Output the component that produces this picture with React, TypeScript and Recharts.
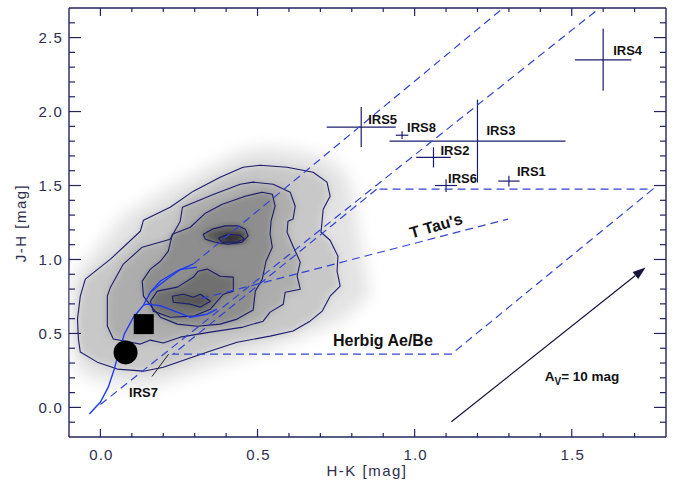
import React from 'react';
import { ScatterChart, Scatter, XAxis, YAxis, ErrorBar } from 'recharts';

type XY = [number, number];

const NAVY = '#1c1c6c';
const AXIS = '#23235e';
const BLUE_DASH = '#3344d0';
const BLUE = '#1f3cf2';
const TICK_TXT = '#2e2e4e';
const FONT = '"Liberation Sans", Arial, sans-serif';

// axis ticks (major every 0.5, minor every 0.1)
const X_TICKS = [0, 0.1, 0.2, 0.3, 0.4, 0.5, 0.6, 0.7, 0.8, 0.9, 1.0, 1.1, 1.2, 1.3, 1.4, 1.5, 1.6, 1.7];
const Y_TICKS = [-0.1, 0, 0.1, 0.2, 0.3, 0.4, 0.5, 0.6, 0.7, 0.8, 0.9, 1.0, 1.1, 1.2, 1.3, 1.4, 1.5, 1.6, 1.7, 1.8, 1.9, 2.0, 2.1, 2.2, 2.3, 2.4, 2.5, 2.6];

// density cloud: faint halo + contour levels (H-K, J-H)
const HALO: XY[] = [[-0.09, 0.867], [-0.016, 1.07], [0.079, 1.306], [0.191, 1.455], [0.318, 1.597], [0.445, 1.732], [0.524, 1.759], [0.636, 1.732], [0.731, 1.678], [0.794, 1.543], [0.81, 1.34], [0.826, 1.137], [0.842, 0.934], [0.858, 0.766], [0.779, 0.597], [0.667, 0.495], [0.54, 0.394], [0.318, 0.245], [0.159, 0.137], [0.032, 0.158], [-0.064, 0.225], [-0.09, 0.394], [-0.095, 0.664], [-0.09, 0.867]];
const C1: XY[] = [[-0.048, 0.867], [0.032, 1.002], [0.127, 1.191], [0.137, 1.266], [0.222, 1.353], [0.296, 1.462], [0.381, 1.556], [0.454, 1.624], [0.508, 1.637], [0.594, 1.624], [0.677, 1.59], [0.721, 1.523], [0.731, 1.428], [0.709, 1.34], [0.702, 1.184], [0.731, 1.13], [0.756, 1.022], [0.753, 0.921], [0.763, 0.82], [0.731, 0.752], [0.706, 0.651], [0.667, 0.583], [0.613, 0.516], [0.54, 0.482], [0.435, 0.441], [0.35, 0.381], [0.276, 0.327], [0.2, 0.272], [0.137, 0.245], [0.054, 0.259], [-0.01, 0.306], [-0.064, 0.374], [-0.07, 0.462], [-0.073, 0.597], [-0.064, 0.752], [-0.048, 0.867]];
const C2: XY[] = [[0.032, 0.813], [0.073, 0.969], [0.133, 1.083], [0.222, 1.137], [0.254, 1.259], [0.261, 1.353], [0.359, 1.44], [0.445, 1.509], [0.486, 1.523], [0.55, 1.509], [0.604, 1.455], [0.62, 1.36], [0.613, 1.273], [0.597, 1.259], [0.594, 1.184], [0.613, 1.09], [0.636, 0.982], [0.626, 0.887], [0.636, 0.799], [0.588, 0.779], [0.582, 0.698], [0.54, 0.644], [0.518, 0.583], [0.454, 0.543], [0.35, 0.509], [0.254, 0.475], [0.2, 0.435], [0.159, 0.455], [0.127, 0.428], [0.041, 0.462], [0.022, 0.55], [0.022, 0.752], [0.032, 0.813]];
const C3: XY[] = [[0.216, 1.056], [0.229, 1.171], [0.286, 1.218], [0.334, 1.313], [0.388, 1.373], [0.461, 1.428], [0.515, 1.455], [0.547, 1.441], [0.556, 1.36], [0.543, 1.259], [0.54, 1.171], [0.547, 1.083], [0.527, 0.988], [0.515, 0.867], [0.493, 0.786], [0.486, 0.658], [0.435, 0.597], [0.381, 0.563], [0.308, 0.549], [0.245, 0.563], [0.191, 0.61], [0.159, 0.691], [0.137, 0.752], [0.133, 0.854], [0.159, 0.935], [0.191, 0.988], [0.216, 1.056]];
const C4A: XY[] = [[0.327, 1.171], [0.356, 1.205], [0.397, 1.227], [0.439, 1.227], [0.461, 1.205], [0.47, 1.159], [0.451, 1.117], [0.407, 1.103], [0.365, 1.117], [0.334, 1.137], [0.327, 1.171]];
const C4B: XY[] = [[0.311, 0.921], [0.34, 0.935], [0.381, 0.887], [0.423, 0.881], [0.423, 0.786], [0.391, 0.765], [0.372, 0.718], [0.35, 0.664], [0.296, 0.617], [0.222, 0.61], [0.168, 0.651], [0.159, 0.718], [0.181, 0.786], [0.245, 0.813], [0.296, 0.881], [0.311, 0.921]];
const C5A: XY[] = [[0.375, 1.144], [0.407, 1.171], [0.445, 1.164], [0.458, 1.137], [0.432, 1.117], [0.388, 1.117], [0.375, 1.144]];
const C5B: XY[] = [[0.229, 0.752], [0.264, 0.765], [0.296, 0.745], [0.318, 0.765], [0.35, 0.718], [0.318, 0.678], [0.286, 0.698], [0.232, 0.711], [0.229, 0.752]];

// intrinsic loci (solid blue)
const DWARF: XY[] = [[-0.035, -0.045], [0.0, 0.036], [0.025, 0.137], [0.044, 0.259], [0.057, 0.36], [0.076, 0.495], [0.105, 0.61], [0.137, 0.691]];
const GIANT_A: XY[] = [[0.137, 0.691], [0.159, 0.779], [0.191, 0.855], [0.244, 0.922], [0.296, 0.97]];
const GIANT_B: XY[] = [[0.159, 0.779], [0.207, 0.86], [0.254, 0.932], [0.307, 0.948]];
const DWARF_B: XY[] = [[0.137, 0.691], [0.149, 0.698], [0.191, 0.687], [0.244, 0.644], [0.286, 0.61], [0.339, 0.63], [0.371, 0.664]];

// dashed lines: reddening bands, T Tau locus, Herbig Ae/Be region
const RED_UPPER: XY[] = [[0.296, 0.97], [1.282, 2.7]];
const RED_LOWER: XY[] = [[0.0, 0.02], [1.589, 2.7]];
const TTAU: XY[] = [[0.32, 0.735], [1.297, 1.273]];
const HERBIG: XY[] = [[0.879, 1.475], [0.231, 0.36], [1.117, 0.36], [1.758, 1.475], [0.879, 1.475]];
const AV_ARROW: XY[] = [[1.117, -0.097], [1.735, 0.946]];
const IRS7_LEADER: XY[] = [[0.164, 0.209], [0.217, 0.36]];

// sources
const IRS_NAMES = ['IRS1', 'IRS2', 'IRS3', 'IRS4', 'IRS5', 'IRS6', 'IRS7', 'IRS8'];
const IRS_HK = [1.3, 1.06, 1.2, 1.6, 0.83, 1.1, 0.228, 0.96];
const IRS_JH = [1.53, 1.69, 1.8, 2.35, 1.895, 1.5, 0.405, 1.84];
const IRS_HK_ERR = [0.034, 0.055, 0.28, 0.09, 0.11, 0.035, 0.037, 0.02];
const IRS_JH_ERR = [0.036, 0.068, 0.28, 0.21, 0.135, 0.043, 0.034, 0.026];

const CIRCLE_PT: XY[] = [[0.08, 0.372]];
const SQUARE_PT: XY[] = [[0.138, 0.563]];

const NOTE_TEXT = ['Herbig Ae/Be', "T Tau's", 'AV'];
const NOTE_HK = [0.74, 0.99, 1.414];
const NOTE_JH = [0.416, 1.142, 0.18];

const irsData = IRS_NAMES.map((name, i) => ({ name, x: IRS_HK[i], y: IRS_JH[i], ex: IRS_HK_ERR[i], ey: IRS_JH_ERR[i] }));
const noteData = NOTE_TEXT.map((text, i) => ({ text, x: NOTE_HK[i], y: NOTE_JH[i] }));
const pts = (a: XY[]) => a.map(([x, y]) => ({ x, y }));

const LABEL_OFF: Record<string, [number, number]> = {
  IRS1: [8, -5], IRS2: [7, -2], IRS3: [9, -6], IRS4: [10, -5],
  IRS5: [7, -3], IRS6: [2, -3], IRS7: [-43, 49], IRS8: [5, -3],
};

const Empty = () => <g />;

const toD = (p: { x: number; y: number }[], close: boolean) =>
  p.map((q, i) => `${i ? 'L' : 'M'}${q.x},${q.y}`).join(' ') + (close ? ' Z' : '');

const pathLine = (style: React.SVGProps<SVGPathElement>, close = false) => (props: any) =>
  <path d={toD(props.points, close)} {...style} />;

const arrowLine = (props: any) => {
  const [a, b] = props.points;
  const ang = Math.atan2(b.y - a.y, b.x - a.x);
  const L = 13, W = 4.5;
  const bx = b.x - L * Math.cos(ang), by = b.y - L * Math.sin(ang);
  return (
    <g>
      <line x1={a.x} y1={a.y} x2={bx} y2={by} stroke="#14143c" strokeWidth={1.2} />
      <polygon
        points={`${b.x},${b.y} ${bx + W * Math.sin(ang)},${by - W * Math.cos(ang)} ${bx - W * Math.sin(ang)},${by + W * Math.cos(ang)}`}
        fill="#14143c"
      />
    </g>
  );
};

const isMajor = (v: number) => Math.abs(v * 2 - Math.round(v * 2)) < 1e-6;
const tickText = { fontFamily: FONT, fontSize: 15, fill: TICK_TXT, letterSpacing: 1.2 };

function BottomTick({ x, y, payload }: any) {
  const m = isMajor(payload.value);
  return (
    <g>
      <line x1={x} x2={x} y1={y} y2={y - (m ? 8 : 4)} stroke={AXIS} strokeWidth={1.2} />
      {m && <text x={x + 1} y={y + 23} textAnchor="middle" {...tickText}>{payload.value.toFixed(1)}</text>}
    </g>
  );
}
function TopTick({ x, y, payload }: any) {
  const m = isMajor(payload.value);
  return <line x1={x} x2={x} y1={y} y2={y + (m ? 8 : 4)} stroke={AXIS} strokeWidth={1.2} />;
}
function LeftTick({ x, y, payload }: any) {
  const m = isMajor(payload.value);
  return (
    <g>
      <line x1={x} x2={x + (m ? 12 : 6)} y1={y} y2={y} stroke={AXIS} strokeWidth={1.2} />
      {m && <text x={x - 6} y={y + 5.5} textAnchor="end" {...tickText}>{payload.value.toFixed(1)}</text>}
    </g>
  );
}
function RightTick({ x, y, payload }: any) {
  const m = isMajor(payload.value);
  return <line x1={x} x2={x - (m ? 12 : 6)} y1={y} y2={y} stroke={AXIS} strokeWidth={1.2} />;
}

function IrsLabel(p: any) {
  const [dx, dy] = LABEL_OFF[p.payload.name] || [6, -4];
  return (
    <text x={p.cx + dx} y={p.cy + dy} fontFamily={FONT} fontWeight="bold" fontSize={13} fill="#111">
      {p.payload.name}
    </text>
  );
}

function Note(p: any) {
  const t = p.payload.text;
  const common = { fontFamily: FONT, fontWeight: 'bold' as const, fill: '#111' };
  if (t === 'AV') {
    return (
      <text x={p.cx} y={p.cy} fontSize={13.5} {...common}>
        A<tspan fontSize={10} dy={4}>V</tspan><tspan dy={-4}>= 10 mag</tspan>
      </text>
    );
  }
  if (t === "T Tau's") {
    return (
      <text x={p.cx} y={p.cy} fontSize={16} transform={`rotate(-16 ${p.cx} ${p.cy})`} {...common}>{t}</text>
    );
  }
  return <text x={p.cx} y={p.cy} fontSize={16} {...common}>{t}</text>;
}

const fillPoly = (fill: string, filter: string) => pathLine({ fill, stroke: 'none', filter }, true);
const contour = pathLine({ fill: 'none', stroke: NAVY, strokeWidth: 1.1, strokeLinejoin: 'round' }, true);
const solidBlue = pathLine({ fill: 'none', stroke: BLUE, strokeWidth: 1.4 });
const dashed = pathLine({ fill: 'none', stroke: BLUE_DASH, strokeWidth: 1.2, strokeDasharray: '8 5' });

export default function App() {
  return (
    <div style={{ position: 'absolute', left: 0, top: 0, width: 678, height: 483, background: '#fff' }}>
      <svg width={0} height={0} style={{ position: 'absolute' }}>
        <defs>
          <filter id="blur8" x="-30%" y="-30%" width="160%" height="160%"><feGaussianBlur stdDeviation={8} /></filter>
          <filter id="blur5" x="-30%" y="-30%" width="160%" height="160%"><feGaussianBlur stdDeviation={4} /></filter>
          <filter id="blur3" x="-30%" y="-30%" width="160%" height="160%"><feGaussianBlur stdDeviation={3} /></filter>
        </defs>
      </svg>
      <ScatterChart width={678} height={483} margin={{ top: 7, right: 11, bottom: 10, left: 19 }}>
        <XAxis
          type="number" dataKey="x" domain={[-0.1, 1.8]} allowDataOverflow ticks={X_TICKS} interval={0}
          tickSize={0} tickMargin={0} tickLine={false} tick={<BottomTick />} height={36}
          axisLine={{ stroke: AXIS, strokeWidth: 1.4 }}
          label={{ content: () => <text x={367} y={476} textAnchor="middle" fontFamily={FONT} fontSize={15} fill={TICK_TXT} letterSpacing={1.5}>H-K [mag]</text> }}
        />
        <XAxis
          xAxisId="top" orientation="top" type="number" dataKey="x" domain={[-0.1, 1.8]} allowDataOverflow ticks={X_TICKS}
          interval={0} tickSize={0} tickMargin={0} tickLine={false} tick={<TopTick />} height={1}
          axisLine={{ stroke: AXIS, strokeWidth: 1.4 }}
        />
        <YAxis
          type="number" dataKey="y" domain={[-0.2, 2.7]} allowDataOverflow ticks={Y_TICKS} interval={0}
          tickSize={0} tickMargin={0} tickLine={false} tick={<LeftTick />} width={50}
          axisLine={{ stroke: AXIS, strokeWidth: 1.4 }}
          label={{ content: () => <text x={26} y={223} transform="rotate(-90 26 223)" textAnchor="middle" fontFamily={FONT} fontSize={15} fill={TICK_TXT} letterSpacing={1.5}>J-H [mag]</text> }}
        />
        <YAxis
          yAxisId="right" orientation="right" type="number" dataKey="y" domain={[-0.2, 2.7]} allowDataOverflow
          ticks={Y_TICKS} interval={0} tickSize={0} tickMargin={0} tickLine={false} tick={<RightTick />} width={1}
          axisLine={{ stroke: AXIS, strokeWidth: 1.4 }}
        />

        {/* keeps the top/right frame axes alive */}
        <Scatter xAxisId="top" yAxisId="right" data={pts(CIRCLE_PT)} shape={Empty} isAnimationActive={false} />

        {/* gray density cloud */}
        <Scatter data={pts(HALO)} line={fillPoly('#e3e3e3', 'url(#blur8)')} shape={Empty} isAnimationActive={false} />
        <Scatter data={pts(C1)} line={fillPoly('#c8c8c8', 'url(#blur5)')} shape={Empty} isAnimationActive={false} />
        <Scatter data={pts(C2)} line={fillPoly('#adadad', 'url(#blur5)')} shape={Empty} isAnimationActive={false} />
        <Scatter data={pts(C3)} line={fillPoly('#8e8e8e', 'url(#blur3)')} shape={Empty} isAnimationActive={false} />
        <Scatter data={pts(C4A)} line={fillPoly('#585858', 'url(#blur3)')} shape={Empty} isAnimationActive={false} />
        <Scatter data={pts(C4B)} line={fillPoly('#707070', 'url(#blur3)')} shape={Empty} isAnimationActive={false} />
        <Scatter data={pts(C5A)} line={fillPoly('#262626', 'url(#blur3)')} shape={Empty} isAnimationActive={false} />
        <Scatter data={pts(C5B)} line={fillPoly('#525252', 'url(#blur3)')} shape={Empty} isAnimationActive={false} />

        {/* contour lines */}
        {[C1, C2, C3, C4A, C4B, C5A, C5B].map((c, i) => (
          <Scatter key={`c${i}`} data={pts(c)} line={contour} shape={Empty} isAnimationActive={false} />
        ))}

        {/* loci */}
        {[DWARF, GIANT_A, GIANT_B, DWARF_B].map((c, i) => (
          <Scatter key={`s${i}`} data={pts(c)} line={solidBlue} shape={Empty} isAnimationActive={false} />
        ))}
        {[RED_UPPER, RED_LOWER, TTAU, HERBIG].map((c, i) => (
          <Scatter key={`d${i}`} data={pts(c)} line={dashed} shape={Empty} isAnimationActive={false} />
        ))}
        <Scatter data={pts(AV_ARROW)} line={arrowLine} shape={Empty} isAnimationActive={false} />
        <Scatter data={pts(IRS7_LEADER)} line={pathLine({ stroke: '#222', strokeWidth: 1, fill: 'none' })} shape={Empty} isAnimationActive={false} />

        {/* giant/dwarf reference markers */}
        <Scatter data={pts(CIRCLE_PT)} shape={(p: any) => <circle cx={p.cx} cy={p.cy} r={12} fill="#000" />} isAnimationActive={false} />
        <Scatter data={pts(SQUARE_PT)} shape={(p: any) => <rect x={p.cx - 10} y={p.cy - 10} width={20} height={20} fill="#000" />} isAnimationActive={false} />

        {/* IRS sources with error bars */}
        <Scatter data={irsData} shape={Empty} isAnimationActive={false}>
          <ErrorBar dataKey="ex" direction="x" width={0} stroke={NAVY} strokeWidth={1.2} isAnimationActive={false} />
          <ErrorBar dataKey="ey" direction="y" width={0} stroke={NAVY} strokeWidth={1.2} isAnimationActive={false} />
        </Scatter>
        <Scatter data={irsData} shape={IrsLabel} isAnimationActive={false} />
        <Scatter data={noteData} shape={Note} isAnimationActive={false} />
      </ScatterChart>
    </div>
  );
}
